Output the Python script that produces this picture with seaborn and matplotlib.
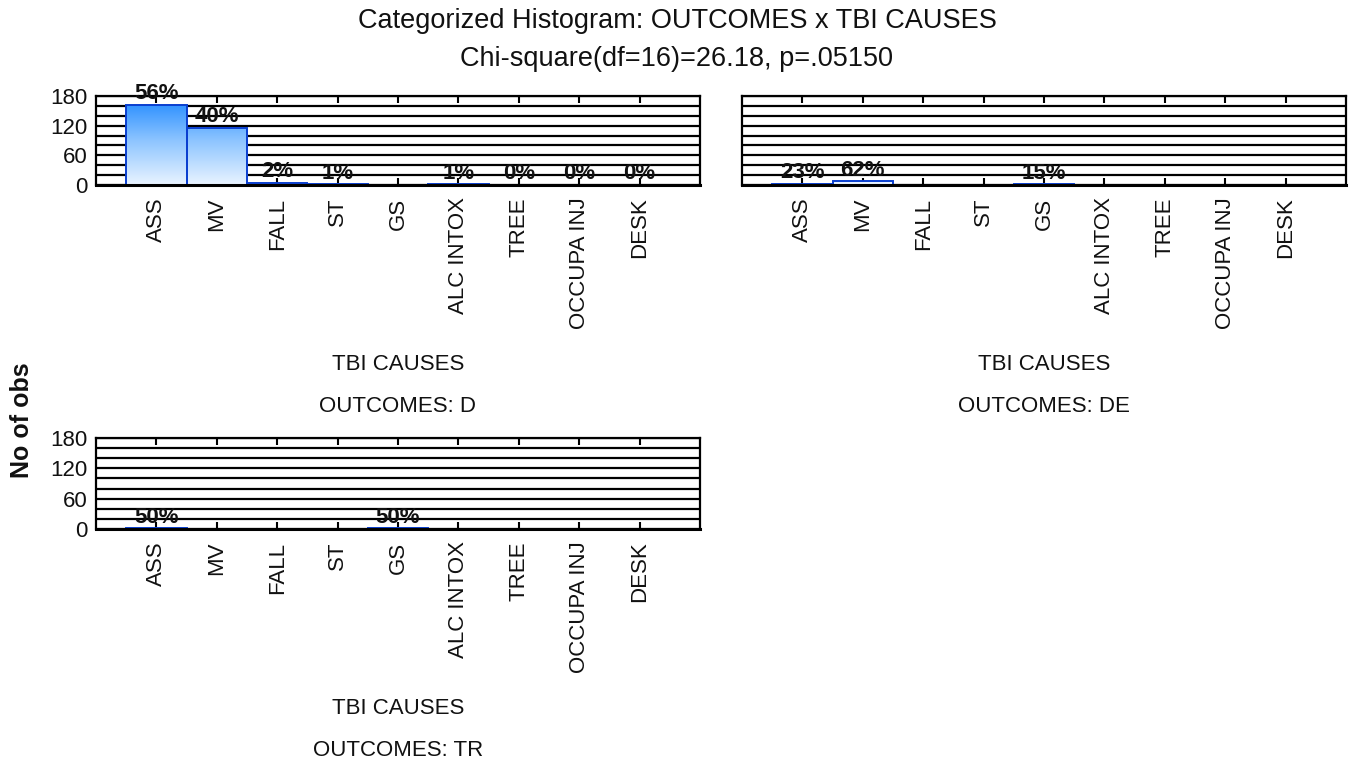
import numpy as np
import pandas as pd
import matplotlib
matplotlib.use("Agg")
import matplotlib.pyplot as plt
from matplotlib.colors import LinearSegmentedColormap
import seaborn as sns

sns.set_theme(style="white")
plt.rcParams["font.family"] = ["Liberation Sans", "DejaVu Sans"]

causes = ["ASS", "MV", "FALL", "ST", "GS", "ALC INTOX", "TREE", "OCCUPA INJ", "DESK"]
counts_d = [162, 116, 5, 2, 0, 2, 1, 1, 1]
counts_de = [3, 8, 0, 0, 2, 0, 0, 0, 0]
counts_tr = [1, 0, 0, 0, 1, 0, 0, 0, 0]
outcomes = ["D", "DE", "TR"]
y_ticks = [0, 60, 120, 180]

title_1 = "Categorized Histogram: OUTCOMES x TBI CAUSES"
title_2 = "Chi-square(df=16)=26.18, p=.05150"

W, H = 1354, 760
fig = plt.figure(figsize=(W / 100, H / 100), dpi=100)


def fpos(left, top, right, bottom):
    return [left / W, 1 - bottom / H, (right - left) / W, (bottom - top) / H]


panel_boxes = [
    fpos(96, 96, 700, 185),
    fpos(742, 96, 1346, 185),
    fpos(96, 438, 700, 529),
]
show_y_labels = [True, False, True]

grad_cmap = LinearSegmentedColormap.from_list(
    "bar_grad", ["#eaf4ff", "#8cc4ff", "#1a86ff"]
)
ink = "#111111"


def draw_panel(box, counts, outcome, ylabels):
    ax = fig.add_axes(box)
    df = pd.DataFrame({"cause": causes, "n": counts})
    sns.barplot(data=df, x="cause", y="n", order=causes, width=1.0,
                color="white", edgecolor="#0a3fd0", linewidth=1.4, ax=ax,
                zorder=2)
    ax.set_xlim(-1, 9)
    ax.set_ylim(0, 180)

    # vertical gradient running over the whole value range, clipped to each bar
    grad = np.linspace(0, 1, 256).reshape(-1, 1)
    for patch in ax.patches:
        if patch.get_height() <= 0:
            patch.set_visible(False)
            continue
        img = ax.imshow(grad, cmap=grad_cmap, origin="lower", aspect="auto",
                        extent=(-1, 9, 0, 180), zorder=1.9)
        img.set_clip_path(patch)
        patch.set_facecolor("none")

    ax.set_xlim(-1, 9)
    ax.set_ylim(0, 180)

    # horizontal rules every 20 observations
    ax.set_yticks(y_ticks)
    ax.set_yticks(np.arange(0, 181, 20), minor=True)
    ax.grid(which="both", axis="y", color="black", linewidth=1.6)
    ax.set_axisbelow(True)
    ax.tick_params(axis="y", which="both", length=0, labelsize=16,
                   labelcolor=ink, pad=6, labelleft=ylabels)

    ax.set_xticks(range(len(causes)))
    ax.set_xticklabels(causes, rotation=90, fontsize=16, color=ink)
    ax.tick_params(axis="x", direction="in", length=5, width=1.5,
                   top=True, bottom=True, color="black", pad=9)
    ax.set_xlabel("")
    ax.set_ylabel("")
    for s in ax.spines.values():
        s.set_visible(True)
        s.set_color("black")
        s.set_linewidth(1.6)
        s.set_zorder(3)
    ax.spines["bottom"].set_linewidth(2.2)

    total = sum(counts)
    for i, n in enumerate(counts):
        if n <= 0:
            continue
        ax.text(i, n + 1, f"{100 * n / total:.0f}%", ha="center",
                va="bottom", fontsize=16, fontweight="bold", color=ink,
                zorder=5)

    x0, x1 = box[0], box[0] + box[2]
    bottom_px = (1 - box[1]) * H
    fig.text((x0 + x1) / 2, 1 - (bottom_px + 180) / H, "TBI CAUSES",
             ha="center", va="center", fontsize=16, color=ink)
    fig.text((x0 + x1) / 2, 1 - (bottom_px + 221) / H, f"OUTCOMES: {outcome}",
             ha="center", va="center", fontsize=16, color=ink)
    return ax


for box, counts, outcome, yl in zip(panel_boxes,
                                    [counts_d, counts_de, counts_tr],
                                    outcomes, show_y_labels):
    draw_panel(box, counts, outcome, yl)

fig.text(0.5, 1 - 21 / H, title_1, ha="center", va="center", fontsize=19.5,
         color=ink)
fig.text(0.5, 1 - 59 / H, title_2, ha="center", va="center", fontsize=19.5,
         color=ink)
fig.text(22 / W, 1 - 420 / H, "No of obs", rotation=90, ha="center",
         va="center", fontsize=18, fontweight="bold", color=ink)

fig.savefig("out.png", dpi=100, facecolor="white")
